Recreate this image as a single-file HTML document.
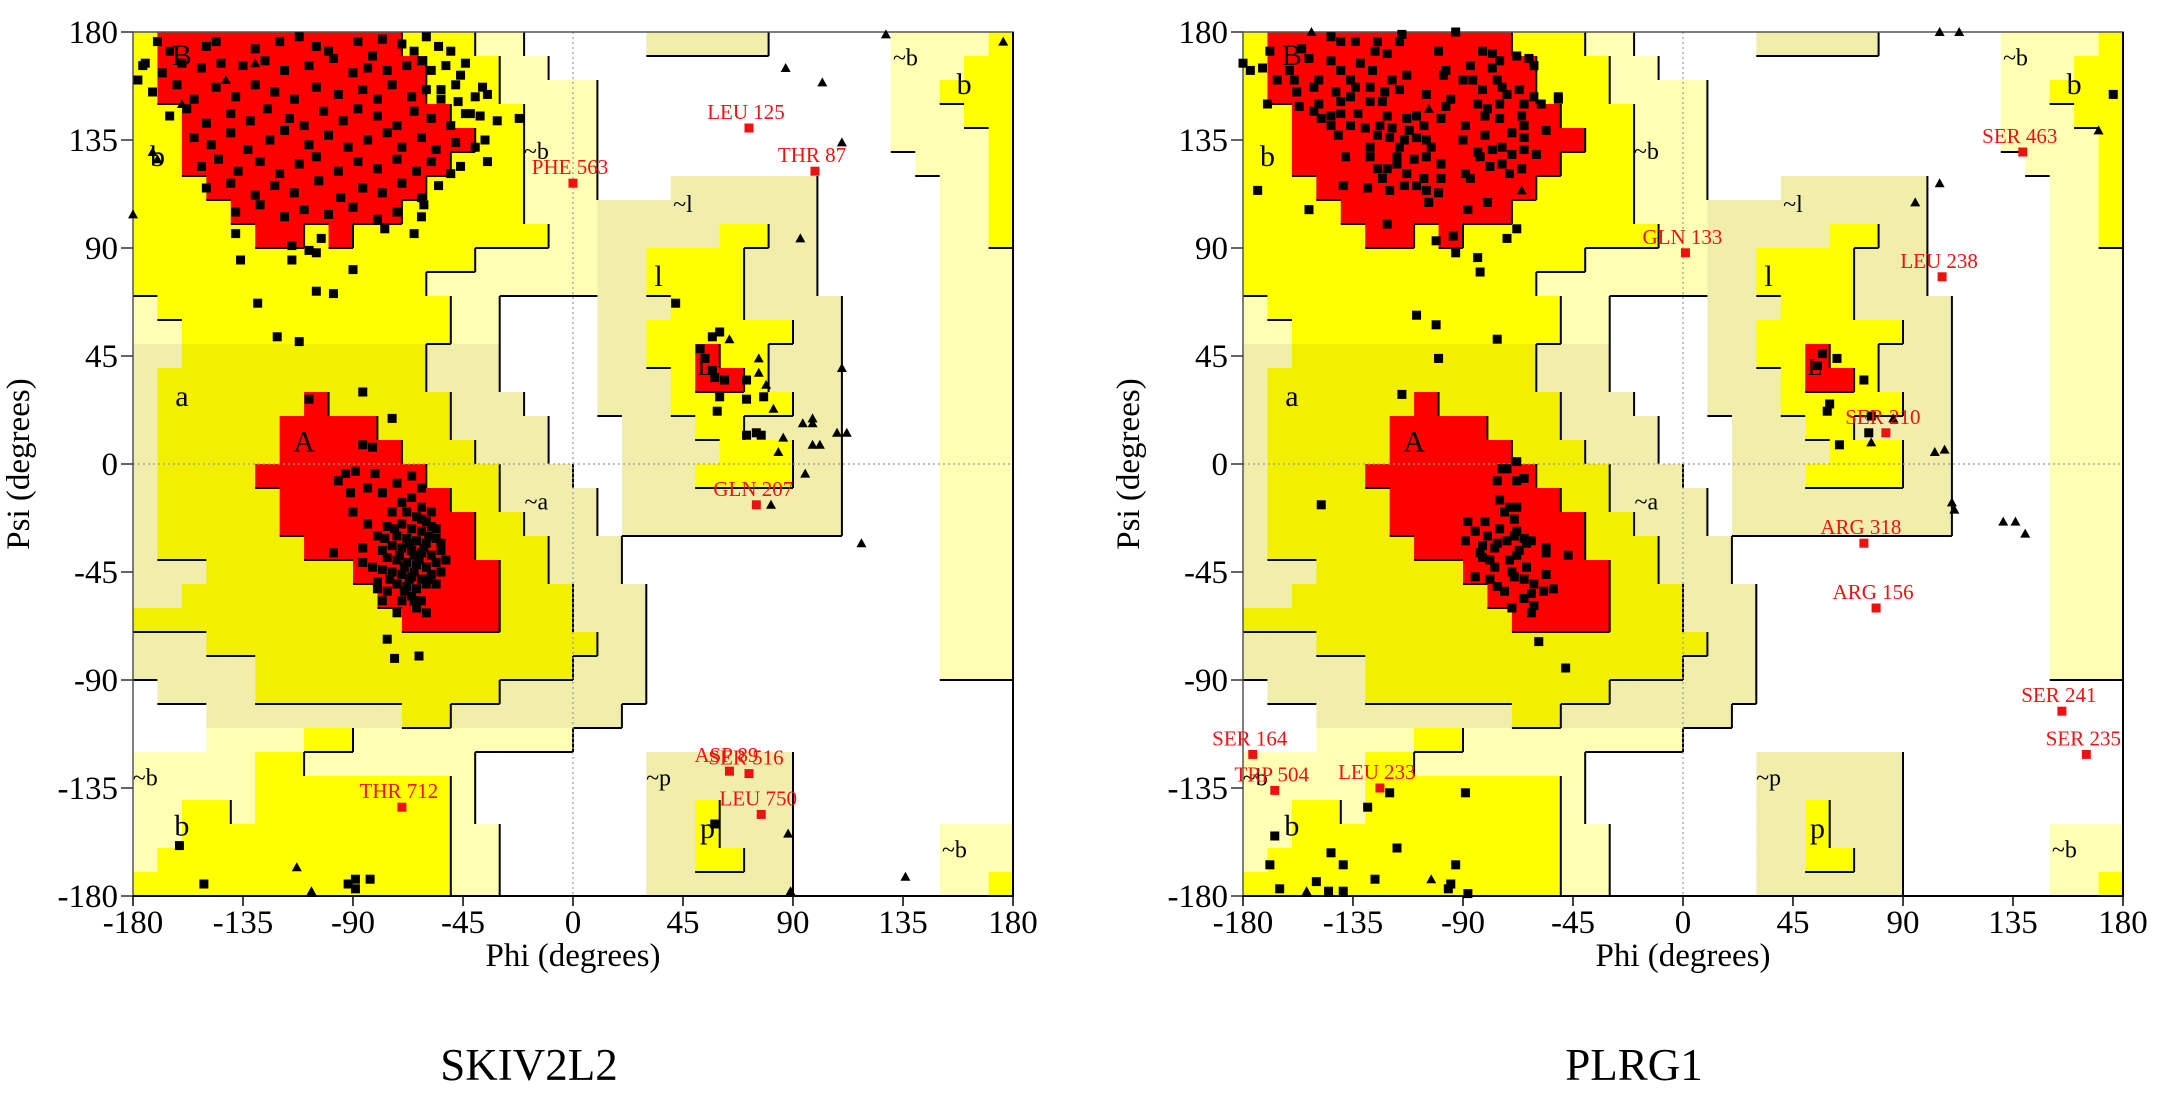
<!DOCTYPE html>
<html><head><meta charset="utf-8"><title>Ramachandran plots</title>
<style>
html,body{margin:0;padding:0;background:#fff;}
svg{display:block;}
text{font-family:"Liberation Serif",serif;}
</style></head>
<body>
<svg id="fig" width="2168" height="1093" viewBox="0 0 2168 1093" xmlns="http://www.w3.org/2000/svg">
<rect x="0" y="0" width="2168" height="1093" fill="#fff"/>
</svg>
<script>
// ---- Region grid (psi rows 180->-180, phi cols -180->180, 10 degree cells) ----
const regionRows = [
"YRRRRRRRRRRYYYLL.....GGGGG.....LLLLY",
"YRRRRRRRRRRRYYYLL..............LLLYY",
"YRRRRRRRRRRRYYYLLLL............LLYYY",
"YYRRRRRRRRRRRYYYLLL............LLLYY",
"YYRRRRRRRRRRRRYYLLL............LLLLY",
"YYRRRRRRRRRRRYYYLLL.............LLLY",
"YYYRRRRRRRRRYYYYLLL...GGGGGG.....LLY",
"YYYYRRRRRRRYYYYYLLLGGGGGGGGG.....LLY",
"YYYYYRRYRYYYYYYYYLLGGGGGYYGG.....LLY",
"YYYYYYYYYYYYYYLLLLLGGYYYYGGG.....LLL",
"YYYYYYYYYYYYLLLLLLLGGYYYYGGG.....LLL",
"LYYYYYYYYYYYYLL....GGGYYYGGGG....LLL",
"LLYYYYYYYYYYYLL....GGYYYYYYGG....LLL",
"GGAAAAAAAAAAGGG....GGYYRYYGGG....LLL",
"GAAAAAAAAAAAGGG....GGGYRRYGGG....LLL",
"GAAAAAARAAAAAGGG...GGGYYYYYGG....LLL",
"GAAAAARRRRAAAGGGG...GGGYYGGGG....LLL",
"GAAAAARRRRRAAAGGG...GGGGYYYGG....LLL",
"GAAAARRRRRRRAAAGGG..GGGYYYYGG....LLL",
"GAAAAARRRRRRRAAGGGG.GGGGGGGGG....LLL",
"GAAAAARRRRRRRRAAGGG.GGGGGGGGG....LLL",
"GAAAAAARRRRRRRAAAGGG.............LLL",
"GGGAAAAAARRRRRRAAGGG.............LLL",
"GGAAAAAAAARRRRRAAAGGG............LLL",
"AAAAAAAAAAARRRRAAAGGG............LLL",
"GGGAAAAAAAAAAAAAAAAGG............LLL",
"GGGGGAAAAAAAAAAAAAGGG............LLL",
".GGGGAAAAAAAAAAGGGGGG...............",
"...GGGGGGGGAAGGGGGGG................",
"...LLLLYYLLLLLLLLL..................",
"LLLLLYYLLLLLLL.......GGGGGG.........",
"LLLLLYYYYYYYYL.......GGGGGG.........",
"LLYYLYYYYYYYYL.......GGYGGG.........",
"LLYYYYYYYYYYYLL......GGYGGG......LLL",
"LYYYYYYYYYYYYLL......GGYYGG......LLL",
"YYYYYYYYYYYYYLL......GGGGGG......LLY"
];
const regionLabels = [["B",-160,170,30],["b",-170,128,30],["A",-110,9,30],["a",-160,28,30],["~b",-15,130,24],["~a",-15,-16,24],["~l",45,108,24],["l",35,78,30],["L",54,40,24],["~p",35,-131,24],["p",55,-152,30],["~b",-175,-131,24],["b",-160,-151,30],["~b",136,169,24],["b",160,158,30],["~b",156,-161,24]];

// ---- SKIV2L2 data (phi, psi in degrees) ----
const skivResidues = [
[-170,176],[-165,172],[-150,174],[-146,176],[-130,173],[-120,176],[-112,178],[-105,174],[-100,172],[-88,176],[-82,170],[-78,177],[-70,175],[-65,172],[-60,178],[-55,174],[-50,172],[-62,168],
[-176,166],[-168,163],[-160,167],[-152,165],[-144,167],[-135,166],[-126,168],[-118,164],[-108,166],[-98,169],[-90,163],[-84,165],[-76,164],[-68,166],[-58,164],[-52,166],[-46,162],[-44,167],
[-172,155],[-162,158],[-155,152],[-146,157],[-138,153],[-130,158],[-122,155],[-114,152],[-105,157],[-96,154],[-86,156],[-80,152],[-74,158],[-66,153],[-60,156],[-54,152],[-48,158],[-40,153],[-35,154],
[-165,145],[-158,148],[-150,142],[-140,146],[-132,143],[-125,148],[-116,144],[-110,141],[-102,147],[-94,143],[-88,148],[-80,145],[-72,141],[-65,147],[-58,144],[-50,141],[-44,146],[-38,145],[-31,143],
[-155,136],[-148,133],[-140,138],[-133,131],[-124,135],[-118,139],[-108,133],[-100,137],[-92,132],[-84,135],[-76,138],[-70,132],[-62,136],[-56,131],[-48,134],[-40,132],[-36,135],
[-152,124],[-145,127],[-137,122],[-128,126],[-120,121],[-112,125],[-105,128],[-96,122],[-88,126],[-80,123],[-72,127],[-64,122],[-58,126],[-50,121],[-46,124],[-35,126],
[-150,115],[-140,117],[-130,112],[-122,116],[-114,113],[-104,118],[-95,111],[-86,115],[-78,113],[-70,117],[-62,111],[-55,116],[-61,108],
[-138,105],[-128,108],[-118,103],[-110,106],[-100,104],[-90,107],[-80,102],[-72,105],[-62,103],[-77,98],
[-138,96],[-115,91],[-103,94],[-108,89],[-65,96],[-136,85],[-115,85],[-105,88],[-90,81],[-105,72],[-98,71],[-129,67],[-121,53],[-112,51],
[-37,157],[-54,156],[-47,151],[-42,146],[-22,144],[-175,167],[-178,160],
[-108,27],[-86,30],[-74,19],[-86,8],[-82,7],[-93,-4],[-89,-3],[-81,-4],[-96,-7],[-91,-12],[-98,-37],[-86,-41],[-76,-73],[-73,-81],[-63,-80],[-80,-52],[-78,-57],[-65,-57],[-59,-48],
[-68,-20],[-64,-22],[-60,-24],[-70,-25],[-66,-27],[-62,-28],[-58,-26],[-72,-30],[-68,-31],[-64,-32],[-60,-33],[-56,-31],[-74,-34],[-70,-35],[-66,-36],[-62,-37],[-58,-38],[-54,-36],
[-76,-39],[-72,-40],[-68,-41],[-64,-42],[-60,-43],[-56,-41],[-78,-44],[-74,-45],[-70,-46],[-66,-47],[-62,-48],[-58,-46],[-72,-50],[-68,-51],[-64,-52],[-60,-50],[-76,-53],[-66,-55],
[-62,-57],[-70,-57],[-80,-49],[-82,-43],[-78,-36],[-80,-30],[-76,-26],[-74,-20],[-70,-16],[-66,-14],[-62,-18],[-58,-20],[-56,-27],[-54,-33],[-52,-40],[-54,-45],[-56,-50],
[-65,-38],[-67,-33],[-63,-40],[-69,-43],[-61,-35],[-65,-45],[-71,-38],[-67,-48],[-73,-27],[-77,-31],[-62,-23],[-59,-30],[-75,-48],[-69,-53],[-64,-60],[-72,-62],[-60,-62],[-86,-35],[-84,-25],[-90,-20],[-78,-12],[-72,-8],[-66,-5],[-84,-10],[-62,-10],
[42,67],[52,48],[57,53],[60,55],[54,44],[57,39],[62,35],[71,35],[71,27],[60,28],[59,22],[78,28],[71,12],[75,13],[77,12],[58,36],
[-161,-159],[-151,-175],[-92,-175],[-89,-173],[-89,-177],[-83,-173],[58,-150]
];
const skivGlycines = [
[-172,130],[-170,127],[-180,104],[-130,167],[-142,160],[-160,150],
[64,52],[76,44],[76,38],[79,33],[82,23],[86,11],[84,5],[94,17],[98,19],[98,17],[98,8],[101,8],[108,13],[112,13],[110,40],
[93,94],[95,-4],[81,-17],[118,-33],[110,134],[87,165],[102,159],[128,179],[176,176],[88,-154],[89,-178],[136,-172],[-113,-168],[-107,-178]
];
const skivOutliers = [["LEU 125",72,140],["THR 87",99,122],["PHE 563",0,117],["GLN 207",75,-17],["ASP 89",64,-128],["SER 516",72,-129],["LEU 750",77,-146],["THR 712",-70,-143]];

// ---- PLRG1 data ----
const plrgResidues = [
[-115,179],[-93,180],[-144,178],[-140,176],[-134,176],[-125,176],[-116,176],[-156,173],[-126,172],[-121,171],[-100,172],[-82,172],[-78,171],[-68,170],[-63,169],
[-153,169],[-144,168],[-132,167],[-161,164],[-140,164],[-127,164],[-97,164],[-87,166],[-78,165],[-75,168],[-61,166],[-166,160],[-159,160],[-149,160],[-136,160],[-119,160],[-113,162],
[-98,162],[-90,160],[-86,160],[-76,160],[-158,155],[-151,157],[-142,155],[-134,157],[-128,157],[-122,155],[-116,156],[-105,154],[-82,156],[-74,157],[-67,156],[-72,154],[-51,153],
[-157,149],[-149,150],[-140,151],[-136,153],[-128,151],[-123,151],[-95,152],[-97,149],[-84,150],[-80,148],[-75,150],[-65,150],[-61,153],[-58,150],[-151,147],[-144,145],[-140,146],
[-133,146],[-121,145],[-113,144],[-109,145],[-99,144],[-81,145],[-75,144],[-66,145],[-148,144],[-144,141],[-136,141],[-130,140],[-124,141],[-119,140],[-112,139],[-106,141],[-89,141],
[-65,141],[-141,137],[-125,137],[-120,136],[-114,135],[-109,136],[-105,135],[-90,135],[-81,137],[-70,138],[-65,136],[-56,139],[-128,132],[-116,132],[-103,132],[-84,130],[-78,131],
[-74,132],[-65,131],[-138,128],[-128,128],[-117,128],[-110,127],[-105,128],[-83,128],[-70,129],[-60,129],[-125,123],[-121,123],[-117,125],[-113,121],[-99,125],[-89,121],[-79,124],
[-74,125],[-66,123],[-139,116],[-129,115],[-123,119],[-120,114],[-114,116],[-109,116],[-106,119],[-99,119],[-87,119],[-71,121],[-105,114],[-100,113],[-104,109],[-88,106],[-80,109],
[-153,106],[-121,100],[-94,95],[-101,93],[-68,98],[-72,94],[-93,88],[-84,86],[-83,80],[-180,167],[-177,164],[-170,150],[-169,172],[-172,165],[-174,114],[-153,106],[-51,152],[-61,166],
[-109,62],[-101,58],[-76,52],[-100,44],[-115,29],[-148,-17],[-59,-74],[-48,-85],
[-68,1],[-74,-2],[-72,-2],[-76,-7],[-68,-7],[-65,-6],[-75,-15],[-71,-18],[-68,-18],[-73,-20],[-69,-23],[-88,-24],[-81,-24],[-85,-28],[-75,-27],[-68,-28],[-80,-30],[-89,-32],[-72,-32],
[-65,-31],[-62,-32],[-82,-34],[-77,-35],[-67,-36],[-56,-35],[-56,-37],[-47,-38],[-82,-39],[-79,-40],[-71,-40],[-68,-38],[-64,-43],[-70,-45],[-85,-47],[-79,-48],[-69,-47],[-65,-48],
[-61,-50],[-56,-46],[-76,-51],[-73,-53],[-57,-53],[-53,-52],[-62,-54],[-65,-56],[-70,-60],[-61,-59],[-62,-62],[-83,-37],[-77,-43],[-76,-33],[-69,-30],[-64,-33],
[176,154],[63,44],[57,46],[55,41],[74,35],[60,25],[59,22],[77,20],[76,13],[64,8],
[-167,-155],[-169,-167],[-165,-177],[-150,-174],[-145,-178],[-139,-178],[-139,-167],[-144,-162],[-129,-143],[-120,-137],[-117,-160],[-126,-173],[-96,-177],[-95,-175],[-93,-167],[-88,-179],[-89,-137]
];
const plrgGlycines = [
[-66,114],[-104,148],[-152,180],[105,180],[113,180],[170,139],[105,117],[95,109],[86,19],[77,9],[103,5],[107,6],[110,-16],[111,-19],[131,-24],[136,-24],[140,-29],[-103,-173],[-154,-178]
];
const plrgOutliers = [["GLN 133",1,88],["LEU 238",106,78],["SER 463",139,130],["SER 210",83,13],["ARG 318",74,-33],["ARG 156",79,-60],["SER 241",155,-103],["SER 235",165,-121],["SER 164",-176,-121],["TRP 504",-167,-136],["LEU 233",-124,-135]];

const psiTicks = [180,135,90,45,0,-45,-90,-135,-180];
const phiTicks = [-180,-135,-90,-45,0,45,90,135,180];

const NS = "http://www.w3.org/2000/svg";
const svg = document.getElementById("fig");
const COLORS = {R:"#ff0000",Y:"#ffff00",A:"#f2f000",L:"#ffffb4",G:"#f0eeaa",".":"#ffffff"};
const RANK = {R:3,Y:2,A:2,L:1,G:1,".":0};

function mk(tag, attrs, parent){
  const e = document.createElementNS(NS, tag);
  for (const k in attrs) e.setAttribute(k, attrs[k]);
  (parent||svg).appendChild(e);
  return e;
}
function cell(r,c){ const row = regionRows[r]||""; const ch = row[c]; return (ch && COLORS[ch]) ? ch : "."; }

function drawPlot(ox, oy, title, titleX, residues, glycines, outliers, key){
  const W = 880, H = 864;
  const xs = p => ox + (p + 180) / 360 * W;
  const ys = s => oy + (180 - s) / 360 * H;
  const cw = W/36, ch = H/36;
  const g = mk("g", {});
  
  
  for (let r=0;r<36;r++){
    for (let c=0;c<36;c++){
      const k = cell(r,c);
      if (k === ".") continue;
      const rc = mk("rect", {x:(ox+c*cw).toFixed(2), y:(oy+r*ch).toFixed(2), width:(cw+0.6).toFixed(2), height:(ch+0.6).toFixed(2), fill:COLORS[k]}, g);
      
      
    }
  }
  let d = "";
  for (let r=0;r<36;r++){
    for (let c=0;c<36;c++){
      const k = cell(r,c);
      if (c<35 && RANK[k] > RANK[cell(r,c+1)]) { const x=ox+(c+1)*cw; d += `M${x.toFixed(1)} ${(oy+r*ch).toFixed(1)}V${(oy+(r+1)*ch).toFixed(1)}`; }
      if (r<35 && RANK[k] > RANK[cell(r+1,c)]) { const y=oy+(r+1)*ch; d += `M${(ox+c*cw).toFixed(1)} ${y.toFixed(1)}H${(ox+(c+1)*cw).toFixed(1)}`; }
    }
  }
  const bl = mk("path", {d:d, stroke:"#000", "stroke-width":"2", fill:"none"}, g);
  
  
  const z1 = mk("line", {x1:xs(0), y1:oy, x2:xs(0), y2:oy+H, stroke:"#999", "stroke-width":"1.2", "stroke-dasharray":"2,3"}, g);
  
  
  const z2 = mk("line", {x1:ox, y1:ys(0), x2:ox+W, y2:ys(0), stroke:"#999", "stroke-width":"1.2", "stroke-dasharray":"2,3"}, g);
  
  
  for (const [t,p,s,fs] of regionLabels){
    const tx = mk("text", {x:xs(p), y:ys(s)+fs*0.3, "font-size":fs, "text-anchor":"middle", fill:"#000"}, g);
    tx.textContent = t;
    
    
  }
  const fr = mk("rect", {x:ox, y:oy, width:W, height:H, fill:"none", stroke:"#555", "stroke-width":"1.5"}, g);
  
  
  const fr2 = mk("path", {d:`M${ox+W} ${oy}V${oy+H}H${ox}`, fill:"none", stroke:"#000", "stroke-width":"2"}, g);
  
  
  for (const t of psiTicks){
    const ln = mk("line", {x1:ox-12, y1:ys(t), x2:ox, y2:ys(t), stroke:"#333", "stroke-width":"1.5"}, g);
    
    
    const tx = mk("text", {x:ox-15, y:ys(t)+11, "font-size":"33", "text-anchor":"end", fill:"#000"}, g);
    tx.textContent = String(t);
    
    
  }
  for (const t of phiTicks){
    const ln = mk("line", {x1:xs(t), y1:oy+H, x2:xs(t), y2:oy+H+10, stroke:"#000", "stroke-width":"1.5"}, g);
    
    
    const tx = mk("text", {x:xs(t), y:oy+H+37, "font-size":"33", "text-anchor":"middle", fill:"#000"}, g);
    tx.textContent = String(t);
    
    
  }
  const xt = mk("text", {x:ox+W/2, y:oy+H+70, "font-size":"33", "text-anchor":"middle", fill:"#000"}, g);
  xt.textContent = "Phi (degrees)";
  
  
  const yx = ox - 104, yy = oy + H/2;
  const yt = mk("text", {x:yx, y:yy, "font-size":"33", "text-anchor":"middle", transform:`rotate(-90 ${yx} ${yy})`, fill:"#000"}, g);
  yt.textContent = "Psi (degrees)";
  
  
  for (const [p,s] of residues){
    const sq = mk("rect", {x:xs(p)-4.5, y:ys(s)-4.5, width:9, height:9, fill:"#000"}, g);
    
    
  }
  for (const [p,s] of glycines){
    const x = xs(p), y = ys(s);
    const tr = mk("polygon", {points:`${x},${y-5} ${x-5},${y+4} ${x+5},${y+4}`, fill:"#000"}, g);
    
    
  }
  for (const [n,p,s] of outliers){
    const x = xs(p), y = ys(s);
    const sq = mk("rect", {x:x-4.5, y:y-4.5, width:9, height:9, fill:"#ee1111"}, g);
    
    
    const tx = mk("text", {x:x-3, y:y-9, "font-size":"21", "text-anchor":"middle", fill:"#ee1111"}, g);
    tx.textContent = n;
    
    
  }
  const tt = mk("text", {x:titleX, y:1080, "font-size":"45", "text-anchor":"middle", fill:"#000"}, g);
  tt.textContent = title;
  
  
}

drawPlot(133, 32, "SKIV2L2", 529, skivResidues, skivGlycines, skivOutliers, "skiv2l2");
drawPlot(1243, 32, "PLRG1", 1634, plrgResidues, plrgGlycines, plrgOutliers, "plrg1");
</script>
</body></html>
